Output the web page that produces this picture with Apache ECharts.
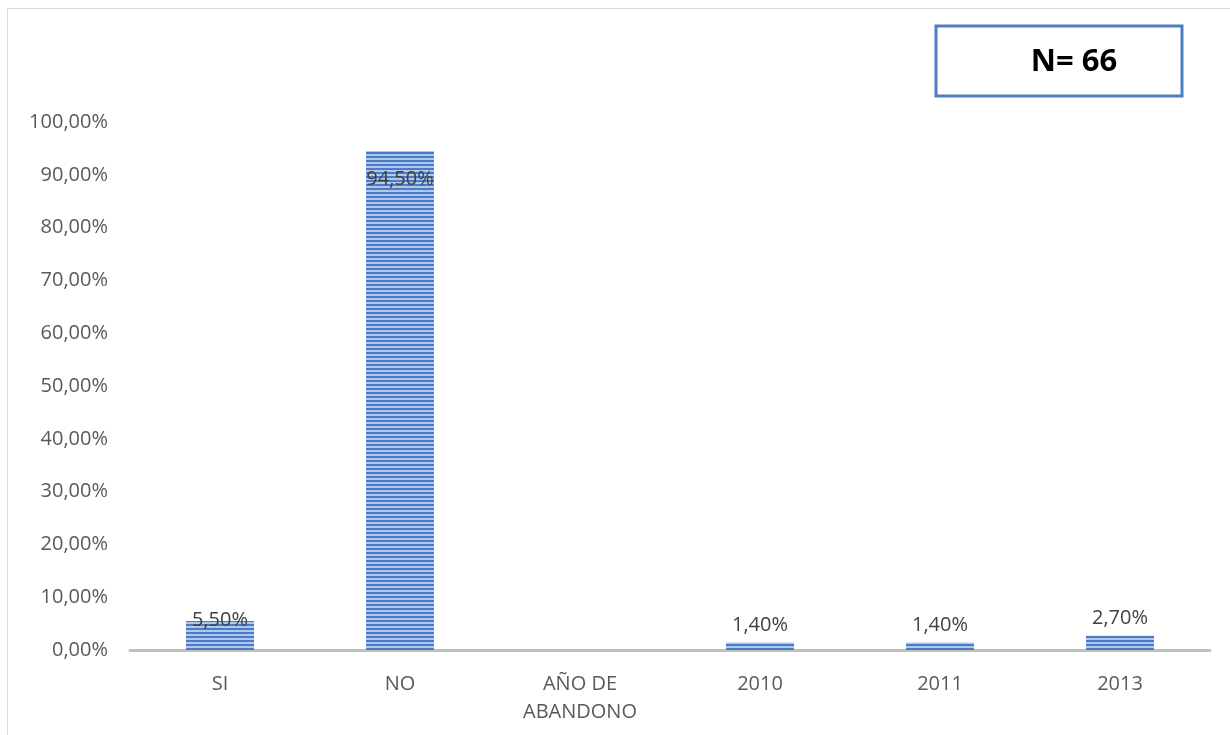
<!DOCTYPE html>
<html><head><meta charset="utf-8">
<script src="https://cdn.jsdelivr.net/npm/echarts@6/dist/echarts.min.js"></script>
<style>html,body{margin:0;padding:0;background:#fff}#c{width:1230px;height:735px}</style>
</head><body><div id="c"></div>
<script>
const categories = ['SI', 'NO', 'AÑO DE\nABANDONO', '2010', '2011', '2013'];
const values = [5.5, 94.5, null, 1.4, 1.4, 2.7];
const valueLabels = ['5,50%', '94,50%', '', '1,40%', '1,40%', '2,70%'];
const yTicks = { min: 0, max: 100, interval: 10 };
const annotation = 'N= 66';

const FONT = '"Open Sans", "Liberation Sans", sans-serif';
const pat = document.createElement('canvas');
pat.width = 4; pat.height = 4;
const pc = pat.getContext('2d');
pc.fillStyle = '#4A7BC6'; pc.fillRect(0, 0, 4, 2);
pc.fillStyle = '#AFC8EC'; pc.fillRect(0, 2, 4, 2);

const chart = echarts.init(document.getElementById('c'), null, { renderer: 'canvas' });
const labelCfg = (v, i) => {
  if (v === null) return { show: false };
  if (v > 50) return { show: true, position: 'insideTop', distance: 18 };
  if (i === 0) return { show: true, position: 'insideTop', distance: -11 };
  return { show: true, position: 'top', distance: 7 };
};
chart.setOption({
  animation: false,
  grid: { left: 130, right: 20, top: 122, bottom: 85 },
  graphic: [
    { type: 'rect', shape: { x: 7.5, y: 8.5, width: 1240, height: 740 }, style: { fill: 'none', stroke: '#D9D9D9', lineWidth: 1 }, z: 0 },
    { type: 'rect', shape: { x: 936, y: 26, width: 246, height: 70 }, style: { fill: '#fff', stroke: '#4F7EC0', lineWidth: 3 }, z: 10 },
    { type: 'text', x: 1074, y: 62, style: { text: annotation, font: 'bold 31px ' + FONT, fill: '#000', align: 'center', verticalAlign: 'middle' }, z: 11 }
  ],
  xAxis: {
    type: 'category', data: categories,
    axisLine: { lineStyle: { color: '#BFBFBF', width: 3 } },
    axisTick: { show: false },
    axisLabel: { color: '#595959', fontSize: 20, fontFamily: FONT, margin: 20, lineHeight: 28 }
  },
  yAxis: {
    type: 'value', min: yTicks.min, max: yTicks.max, interval: yTicks.interval,
    axisLine: { show: false }, axisTick: { show: false }, splitLine: { show: false },
    axisLabel: { color: '#595959', fontSize: 20, fontFamily: FONT, margin: 22,
      formatter: v => v.toFixed(2).replace('.', ',') + '%' }
  },
  series: [{
    type: 'bar', barWidth: 68,
    itemStyle: { color: { image: pat, repeat: 'repeat' } },
    data: values.map((v, i) => ({
      value: v,
      label: Object.assign(labelCfg(v, i), { formatter: valueLabels[i], color: '#404040', fontSize: 20, fontFamily: FONT })
    }))
  }]
});
</script></body></html>
